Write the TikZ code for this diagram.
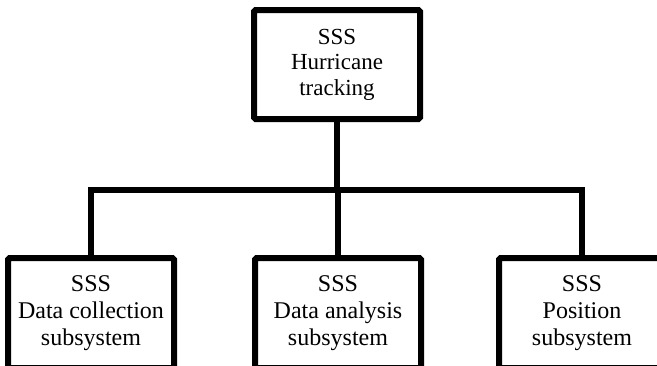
\documentclass[tikz,border=0pt]{standalone}
\usepackage{fontspec}
\setmainfont{Liberation Serif}
\begin{document}
\begin{tikzpicture}[x=1pt,y=-1pt,
  sysbox/.style={draw=black, line width=6pt, rectangle, rounded corners=1.5pt, fill=white,
    inner sep=0pt, minimum width=166pt, align=center,
    font=\fontsize{23}{25.5}\selectfont},
  subbox/.style={sysbox, minimum height=110pt, font=\fontsize{24}{27}\selectfont},
  link/.style={draw=black, line width=6pt}]
\useasboundingbox (0,0) rectangle (657,365);
\clip (0,0) rectangle (657,365);
\fill[white] (0,0) rectangle (657,365);
\coordinate (bus) at (337,190);
\node[sysbox, minimum height=109pt] (top) at (337,64.5) {SSS\\Hurricane\\tracking};
\node[subbox] (left) at (91,313) {SSS\\Data collection\\subsystem};
\node[subbox] (mid) at (338,313) {SSS\\Data analysis\\subsystem};
\node[subbox] (right) at (582,313) {SSS\\Position\\subsystem};
\draw[link] (top.south) -- (bus);
\draw[link] (bus) -- (bus -| mid.north) -- (mid.north);
\draw[link] (left.north) |- (bus) -| (right.north);
\end{tikzpicture}
\end{document}
